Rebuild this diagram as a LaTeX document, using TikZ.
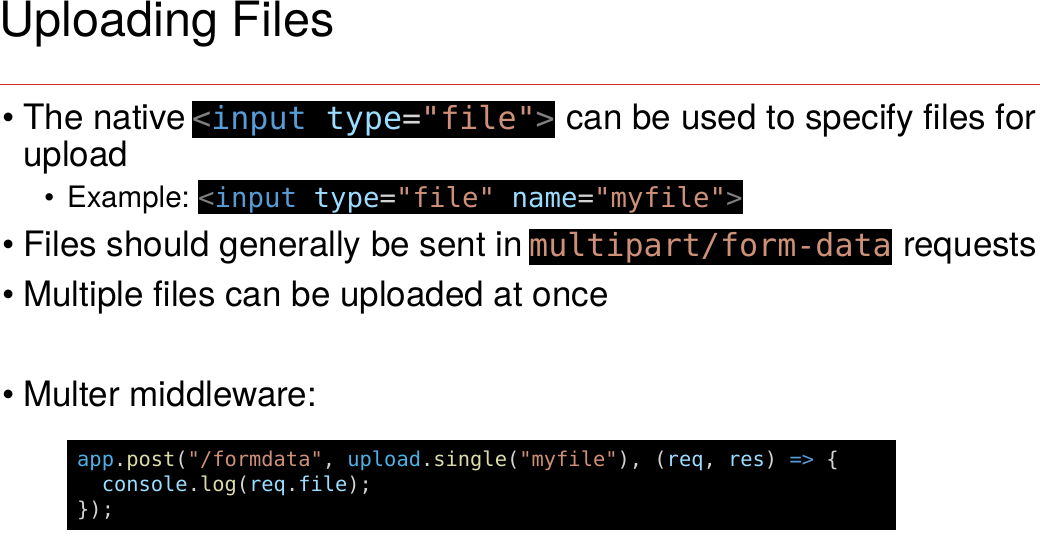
\documentclass[tikz,border=0pt]{standalone}
\usepackage{fontspec}
\setmainfont{TeX Gyre Heros}
\newfontfamily\codefont{DejaVu Sans Mono}
\definecolor{cgrey}{HTML}{808080}
\definecolor{ckey}{HTML}{569CD6}
\definecolor{cattr}{HTML}{9CDCFE}
\definecolor{cstr}{HTML}{CE9178}
\definecolor{cpunc}{HTML}{D4D4D4}
\definecolor{cfun}{HTML}{DCDCAA}
\definecolor{cconst}{HTML}{4FB0E6}
\definecolor{rulered}{RGB}{210,40,40}
\begin{document}
\begin{tikzpicture}[x=1pt,y=-1pt,
  titletext/.style={font=\fontsize{48.6}{48.6}\selectfont, inner sep=0, anchor=base west},
  body/.style={font=\fontsize{35}{35}\selectfont, inner sep=0, anchor=base west},
  subbody/.style={font=\fontsize{29.5}{29.5}\selectfont, inner sep=0, anchor=base west},
  hl/.style={fill=black, inner sep=0, anchor=base west, text=cpunc},
  bigcode/.style={hl, font=\codefont\fontsize{31.7}{31.7}\selectfont},
  midcode/.style={hl, font=\codefont\fontsize{27.4}{27.4}\selectfont},
  blockcode/.style={inner sep=0, anchor=base west, text=cpunc, font=\codefont\fontsize{20.4}{20.4}\selectfont}]
\useasboundingbox (0,0) rectangle (1040,540);
\fill[white] (0,0) rectangle (1040,540);

% title and rule
\node[titletext] (title) at (-1,37) {Uploading Files};
\coordinate (ruleL) at (0,84.5);
\coordinate (ruleR) at (1040,84.5);
\draw[rulered, line width=1.6pt] (ruleL) -- (ruleR);

% bullet 1
\node[body] (b1) at (2,130) {•};
\node[body] (t1a) at (23,130) {The native};
\node[bigcode, text height=29pt, text depth=8pt] (c1) at (192,130)
  {\textcolor{cgrey}{<}\textcolor{ckey}{input} \textcolor{cattr}{type}=\textcolor{cstr}{"file"}\textcolor{cgrey}{>}};
\node[body] (t1b) at (566,130) {can be used to specify files for};
\node[body] (t1c) at (23,167) {upload};

% sub bullet
\node[subbody] (b1s) at (44,207) {•};
\node[subbody] (t1s) at (67,207) {Example:};
\node[midcode, text height=27pt, text depth=7pt] (c2) at (198,207)
  {\textcolor{cgrey}{<}\textcolor{ckey}{input} \textcolor{cattr}{type}=\textcolor{cstr}{"file"} \textcolor{cattr}{name}=\textcolor{cstr}{"myfile"}\textcolor{cgrey}{>}};

% bullet 2
\node[body] (b2) at (2,256) {•};
\node[body] (t2a) at (23,256) {Files should generally be sent in};
\node[bigcode, text height=27pt, text depth=9pt, text=cstr] (c3) at (529,256) {multipart/form-data};
\node[body] (t2b) at (903,256) {requests};

% bullet 3
\node[body] (b3) at (2,306) {•};
\node[body] (t3) at (23,306) {Multiple files can be uploaded at once};

% bullet 4
\node[body] (b4) at (2,406) {•};
\node[body] (t4) at (23,406) {Multer middleware:};

% code block
\node[fill=black, inner sep=0, minimum width=829pt, minimum height=90pt, anchor=north west] (codebg) at (67,440) {};
\node[blockcode] (l1) at (77,466)
  {\textcolor{cconst}{app}.\textcolor{cfun}{post}(\textcolor{cstr}{"/formdata"}, \textcolor{cconst}{upload}.\textcolor{cfun}{single}(\textcolor{cstr}{"myfile"}), (\textcolor{cattr}{req}, \textcolor{cattr}{res}) \textcolor{ckey}{=>} \{};
\node[blockcode] (l2) at (101.6,491)
  {\textcolor{cattr}{console}.\textcolor{cfun}{log}(\textcolor{cattr}{req}.\textcolor{cattr}{file});};
\node[blockcode] (l3) at (77,516) {\});};
\end{tikzpicture}
\end{document}
